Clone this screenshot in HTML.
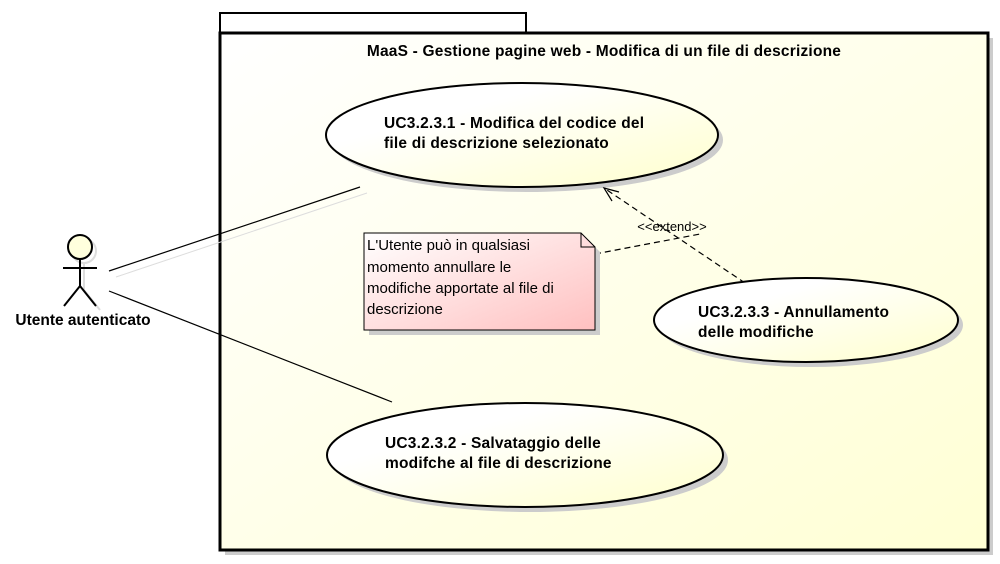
<!DOCTYPE html>
<html><head><style>body{margin:0;background:#fff}svg{display:block}</style></head><body>
<svg width="1000" height="564" viewBox="0 0 1000 564" font-family="Liberation Sans, sans-serif">
<defs>
<linearGradient id="bg" x1="0" y1="0" x2="1" y2="1"><stop offset="0" stop-color="#ffffff"/><stop offset="1" stop-color="#ffffd4"/></linearGradient>
<linearGradient id="el" x1="0" y1="0" x2="1" y2="1"><stop offset="0.3" stop-color="#ffffff"/><stop offset="1" stop-color="#ffffcc"/></linearGradient>
<linearGradient id="nt" x1="0" y1="0" x2="1" y2="1"><stop offset="0" stop-color="#ffffff"/><stop offset="1" stop-color="#ffc0c0"/></linearGradient>
</defs>
<rect x="225" y="38" width="768" height="517" fill="#ccc"/>
<rect x="220" y="13" width="306" height="20" fill="#fff" stroke="#000" stroke-width="2"/>
<rect x="220" y="33" width="768" height="517" fill="url(#bg)" stroke="#000" stroke-width="3"/>
<text x="604" y="56" font-size="15.5" font-weight="bold" text-anchor="middle" letter-spacing="0.2">MaaS - Gestione pagine web - Modifica di un file di descrizione</text>
<line x1="109" y1="271" x2="360" y2="187" stroke="#000" stroke-width="1.2"/>
<line x1="116" y1="277" x2="367" y2="193" stroke="#ddd" stroke-width="1"/>
<line x1="109" y1="291" x2="392" y2="402" stroke="#000" stroke-width="1.2"/>
<ellipse cx="527" cy="140" rx="196" ry="52" fill="#ccc"/>
<ellipse cx="522" cy="135" rx="196" ry="52" fill="url(#el)" stroke="#000" stroke-width="2"/>
<text font-size="15.5" font-weight="bold" letter-spacing="0.2"><tspan x="384" y="128">UC3.2.3.1 - Modifica del codice del</tspan><tspan x="384" y="148">file di descrizione selezionato</tspan></text>
<ellipse cx="530" cy="460" rx="198" ry="52" fill="#ccc"/>
<ellipse cx="525" cy="455" rx="198" ry="52" fill="url(#el)" stroke="#000" stroke-width="2"/>
<text font-size="15.5" font-weight="bold" letter-spacing="0.2"><tspan x="385" y="448">UC3.2.3.2 - Salvataggio delle</tspan><tspan x="385" y="468">modifche al file di descrizione</tspan></text>
<line x1="595" y1="254" x2="700" y2="234" stroke="#000" stroke-dasharray="6,4" stroke-width="1.2"/>
<line x1="745" y1="283" x2="604" y2="188" stroke="#000" stroke-dasharray="6,4" stroke-width="1.2"/>
<polyline points="612,201 604,188 619,192" fill="none" stroke="#000" stroke-width="1.2"/>
<text x="672" y="231" font-size="13" text-anchor="middle">&lt;&lt;extend&gt;&gt;</text>
<ellipse cx="811" cy="325" rx="152" ry="42" fill="#ccc"/>
<ellipse cx="806" cy="320" rx="152" ry="42" fill="url(#el)" stroke="#000" stroke-width="2"/>
<text font-size="15.5" font-weight="bold" letter-spacing="0.2"><tspan x="698" y="317">UC3.2.3.3 - Annullamento</tspan><tspan x="698" y="337">delle modifiche</tspan></text>
<polygon points="369,238 586,238 600,252 600,335 369,335" fill="#ccc"/>
<polygon points="364,233 581,233 595,247 595,330 364,330" fill="url(#nt)" stroke="#000" stroke-width="1"/>
<polyline points="581,233 581,247 595,247" fill="none" stroke="#000"/>
<text font-size="15"><tspan x="367" y="250">L'Utente può in qualsiasi</tspan><tspan x="367" y="272">momento annullare le</tspan><tspan x="367" y="293">modifiche apportate al file di</tspan><tspan x="367" y="314">descrizione</tspan></text>
<g stroke="#ddd" stroke-width="2" fill="none"><circle cx="84" cy="251" r="12"/><line x1="84" y1="263" x2="84" y2="290"/><line x1="84" y1="290" x2="100" y2="310"/></g>
<circle cx="80" cy="247" r="12" fill="#ffffdd" stroke="#000" stroke-width="2"/>
<g stroke="#000" stroke-width="2"><line x1="80" y1="259" x2="80" y2="286"/><line x1="63" y1="268" x2="97" y2="268"/><line x1="80" y1="286" x2="64" y2="306"/><line x1="80" y1="286" x2="96" y2="306"/></g>
<text x="83" y="325" font-size="15.5" font-weight="bold" text-anchor="middle">Utente autenticato</text>
</svg>
</body></html>
